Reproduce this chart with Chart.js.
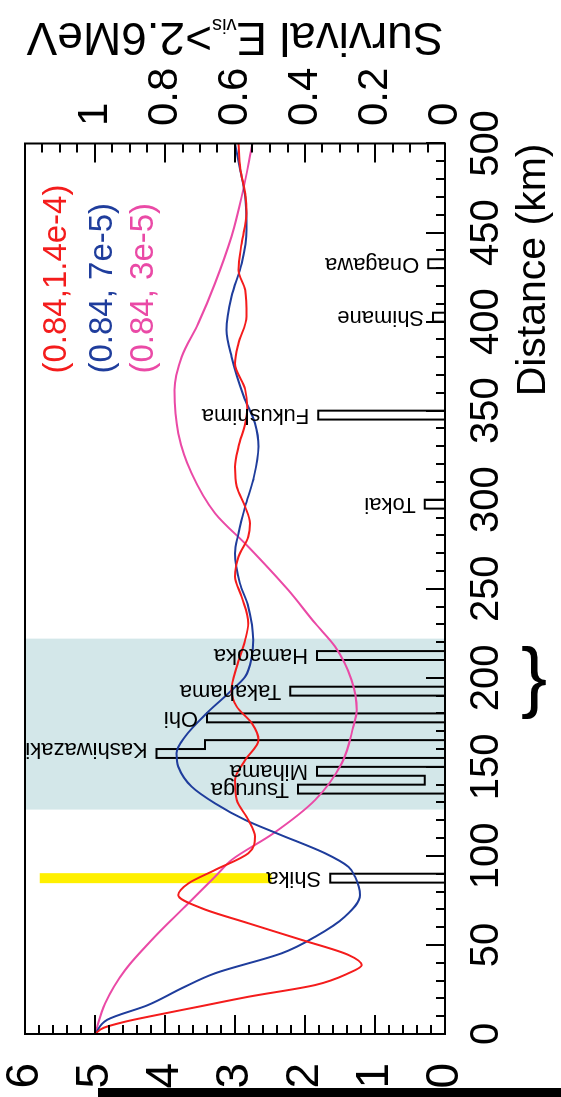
<!DOCTYPE html>
<html>
<head>
<meta charset="utf-8">
<script src="https://cdn.jsdelivr.net/npm/chart.js@4/dist/chart.umd.min.js"></script>
<style>
  html, body { margin: 0; padding: 0; background: #fff; overflow: hidden; }
  #page { position: relative; width: 561px; height: 1097px; overflow: hidden; background: #fff; }
  /* the plot is laid out in landscape and turned a quarter turn counter-clockwise */
  #wrap { position: absolute; left: 0; top: 0; width: 1097px; height: 561px;
          transform-origin: 0 0; transform: translate(0px, 1097px) rotate(-90deg); }
  #rule { position: absolute; left: 98px; top: 1088px; width: 463px; height: 9px; background: #000; }
</style>
</head>
<body>
<div id="page">
  <div id="wrap"><canvas id="c" width="1097" height="561"></canvas></div>
  <div id="rule"></div>
</div>
<script>
const FONT = "'Liberation Sans', Arial, Helvetica, sans-serif";

// Survival probability (E_vis > 2.6 MeV) vs baseline, for three (sin^2 2θ, Δm^2) sets
const redLabel = '(0.84,1.4e-4)';
const redKm  = [0, 3.5, 6.9, 9.7, 15.3, 20.9, 27.5, 34.1, 38.7, 44.4, 52.8, 62.2, 70.6, 78.0, 84.6, 92.1, 101.5, 110.8, 120.2, 131.4, 142.6, 153.8, 165.1, 174.5, 183.8, 193.2, 206.2, 221.2, 230.6, 245.5, 256.8, 268.0, 279.2, 286.7, 296.1, 307.3, 318.5, 329.8, 342.9, 352.0, 362.0, 376.6, 387.8, 402.8, 417.7, 429.0, 444.0, 460.8, 472.0, 486.0, 500];
const redSurv = [1, 0.975, 0.914, 0.848, 0.705, 0.562, 0.371, 0.276, 0.238, 0.276, 0.409, 0.562, 0.695, 0.762, 0.733, 0.657, 0.562, 0.543, 0.562, 0.595, 0.600, 0.571, 0.533, 0.552, 0.595, 0.610, 0.595, 0.571, 0.562, 0.581, 0.600, 0.590, 0.562, 0.557, 0.571, 0.595, 0.600, 0.590, 0.571, 0.565, 0.571, 0.600, 0.590, 0.567, 0.571, 0.590, 0.581, 0.567, 0.571, 0.585, 0.590];

const blueLabel = '(0.84, 7e-5)';
const blueKm  = [0, 8.0, 16.3, 25.7, 34.1, 45.3, 54.6, 65.9, 78.0, 88.3, 93.9, 101.5, 112.3, 120.2, 129.5, 138.9, 150.1, 157.6, 166.9, 180.1, 191.3, 200.6, 211.8, 221.2, 239.9, 253.1, 269.9, 281.1, 296.1, 311.1, 329.8, 342.9, 358.0, 380.3, 395.3, 414.0, 432.7, 451.4, 470.1, 485.0, 500];
const blueSurv = [1, 0.965, 0.848, 0.752, 0.657, 0.467, 0.371, 0.286, 0.243, 0.257, 0.276, 0.343, 0.476, 0.571, 0.657, 0.724, 0.762, 0.767, 0.743, 0.681, 0.619, 0.571, 0.552, 0.548, 0.562, 0.586, 0.600, 0.590, 0.571, 0.548, 0.533, 0.543, 0.575, 0.610, 0.624, 0.610, 0.581, 0.567, 0.571, 0.585, 0.600];

const pinkLabel = '(0.84, 3e-5)';
const pinkKm  = [0, 17.2, 35.9, 54.6, 71.5, 88.3, 97.7, 112.7, 131.4, 152.0, 172.5, 181.9, 198.8, 217.5, 230.6, 249.3, 273.6, 292.4, 314.8, 337.3, 361.6, 380.3, 399.0, 421.5, 447.7, 470.1, 500];
const pinkSurv = [1, 0.971, 0.914, 0.829, 0.743, 0.657, 0.610, 0.490, 0.371, 0.295, 0.262, 0.252, 0.267, 0.314, 0.371, 0.448, 0.562, 0.657, 0.724, 0.762, 0.773, 0.752, 0.705, 0.657, 0.610, 0.581, 0.550];

// Reactor power histogram, 5 km bins (left axis)
const binWidthKm = 5;
const binStartKm = [85, 135, 140, 145, 155, 160, 175, 190, 210, 295, 345, 400, 430];
const binPower   = [1.64, 2.10, 0.29, 1.83, 4.12, 3.43, 3.40, 2.21, 1.83, 0.29, 1.81, 0.17, 0.24];

// Reactor site names and where their labels sit
const reactorNames = ['Shika', 'Tsuruga', 'Mihama', 'Kashiwazaki', 'Ohi', 'Takahama', 'Hamaoka', 'Tokai', 'Fukushima', 'Shimane', 'Onagawa'];
const reactorKm    = [87.5, 137.5, 147.5, 160, 177.5, 192.5, 212.5, 297.5, 347.5, 402.5, 432.5];

// Highlighted distance band, yellow marker at Shika, brace under the band
const shadedKm = [126, 222];
const markerKm = 87.5;
const markerPower = [2.48, 5.79];
const braceKm = 197;

// Axis tick labels
const distanceTicks = [0, 50, 100, 150, 200, 250, 300, 350, 400, 450, 500];
const powerTicks = [0, 1, 2, 3, 4, 5, 6];
const survivalTicks = [0, 0.2, 0.4, 0.6, 0.8, 1];

const RED = '#f41c1c', BLUE = '#1f3d9c', PINK = '#ea4aa6';

function histogramOutline() {
  const pts = [{ x: 0, y: 0 }];
  binStartKm.forEach((lo, i) => {
    const hi = lo + binWidthKm, v = binPower[i];
    const prevAdj = i > 0 && binStartKm[i - 1] + binWidthKm === lo;
    const nextAdj = i < binStartKm.length - 1 && binStartKm[i + 1] === hi;
    if (!prevAdj) pts.push({ x: lo, y: 0 });
    pts.push({ x: lo, y: v }, { x: hi, y: v });
    if (!nextAdj) pts.push({ x: hi, y: 0 });
  });
  pts.push({ x: 500, y: 0 });
  return pts;
}

function labelBase(km) {
  let top = 0;
  binStartKm.forEach((lo, i) => {
    if (lo < km + binWidthKm / 2 && lo + binWidthKm > km - binWidthKm / 2) top = Math.max(top, binPower[i]);
  });
  return top;
}

const curve = (km, surv, color, label) => ({
  type: 'line', label, yAxisID: 'yS', order: 1,
  data: km.map((d, i) => ({ x: d, y: surv[i] })),
  borderColor: color, borderWidth: 2, pointRadius: 0, fill: false,
  cubicInterpolationMode: 'monotone'
});

// keep the vertical axes from pushing the plot area inward
const fitVertical = width => s => { s.width = width; s.paddingTop = 0; s.paddingBottom = 0; };

const decor = {
  id: 'decor',
  beforeDatasetsDraw(chart) {
    const { ctx, chartArea: a, scales: { x } } = chart;
    ctx.save();
    ctx.fillStyle = '#d3e7e9';
    const x0 = x.getPixelForValue(shadedKm[0]), x1 = x.getPixelForValue(shadedKm[1]);
    ctx.fillRect(x0, a.top, x1 - x0, a.bottom - a.top);
    ctx.restore();
  },
  afterDatasetsDraw(chart) {
    const { ctx, chartArea: a, scales: { x, y, yS } } = chart;
    ctx.save();
    ctx.fillStyle = '#000';

    // site names above their bars
    ctx.font = `22px ${FONT}`;
    ctx.textAlign = 'left';
    ctx.textBaseline = 'middle';
    reactorNames.forEach((name, i) => {
      ctx.save();
      ctx.translate(x.getPixelForValue(reactorKm[i]), y.getPixelForValue(labelBase(reactorKm[i])) - 9);
      ctx.rotate(-Math.PI / 2);
      ctx.fillText(name, 0, 0);
      ctx.restore();
    });

    // frame and inward ticks
    ctx.strokeStyle = '#000';
    ctx.lineWidth = 2;
    ctx.strokeRect(a.left, a.top, a.right - a.left, a.bottom - a.top);
    ctx.beginPath();
    for (let d = 0; d <= 500; d += 10) {
      const px = Math.round(x.getPixelForValue(d));
      const len = d % 50 === 0 ? 19 : 9;
      ctx.moveTo(px, a.bottom); ctx.lineTo(px, a.bottom - len);
    }
    for (let k = 0; k <= 30; k++) {
      const py = Math.round(y.getPixelForValue(k * 0.2));
      const len = k % 5 === 0 ? 19 : 9;
      ctx.moveTo(a.left, py); ctx.lineTo(a.left + len, py);
    }
    for (let k = 0; k <= 24; k++) {
      const py = Math.round(yS.getPixelForValue(k * 0.05));
      const len = k % 4 === 0 ? 19 : 9;
      ctx.moveTo(a.right, py); ctx.lineTo(a.right - len, py);
    }
    ctx.stroke();

    // parameter legend
    ctx.font = `33px ${FONT}`;
    ctx.textAlign = 'left';
    ctx.textBaseline = 'middle';
    const legendY = [32, 78, 118.5];
    chart.data.datasets.filter(ds => ds.yAxisID === 'yS').forEach((ds, i) => {
      ctx.fillStyle = ds.borderColor;
      ctx.fillText(ds.label, a.right - 230, a.top + legendY[i]);
    });

    // survival axis title, reading upward, with subscript
    const parts = [['Survival E', 46, 0], ['vis', 20, 4], ['>2.6MeV', 46, 0]];
    let total = 0;
    parts.forEach(p => { ctx.font = `${p[1]}px ${FONT}`; p.w = ctx.measureText(p[0]).width; total += p.w; });
    ctx.save();
    ctx.fillStyle = '#000';
    ctx.translate(chart.width - 23, (a.top + a.bottom) / 2);
    ctx.rotate(-Math.PI / 2);
    ctx.textBaseline = 'alphabetic';
    let pos = -total / 2;
    parts.forEach(p => { ctx.font = `${p[1]}px ${FONT}`; ctx.fillText(p[0], pos, p[2]); pos += p.w; });
    ctx.restore();

    // brace under the highlighted band
    ctx.save();
    ctx.fillStyle = '#000';
    ctx.font = `78px ${FONT}`;
    ctx.translate(x.getPixelForValue(braceKm), a.bottom + 89);
    ctx.rotate(Math.PI / 2);
    ctx.textAlign = 'center';
    ctx.textBaseline = 'alphabetic';
    ctx.fillText('}', 0, 0.26 * 78);
    ctx.restore();

    ctx.restore();
  }
};

new Chart(document.getElementById('c'), {
  type: 'line',
  data: {
    datasets: [
      curve(redKm, redSurv, RED, redLabel),
      curve(blueKm, blueSurv, BLUE, blueLabel),
      curve(pinkKm, pinkSurv, PINK, pinkLabel),
      {
        type: 'line', label: 'reactor power', yAxisID: 'y', order: 5,
        data: histogramOutline(),
        borderColor: '#000', borderWidth: 2, pointRadius: 0, fill: false, tension: 0
      },
      {
        type: 'line', label: 'marker', yAxisID: 'y', order: 6,
        data: markerPower.map(v => ({ x: markerKm, y: v })),
        borderColor: '#fff000', borderWidth: 10, borderCapStyle: 'butt', pointRadius: 0, fill: false
      }
    ]
  },
  options: {
    responsive: false,
    animation: false,
    devicePixelRatio: 1,
    layout: { padding: { top: 25, left: 0, right: 0, bottom: 0 } },
    plugins: { legend: { display: false }, tooltip: { enabled: false } },
    scales: {
      x: {
        type: 'linear', position: 'bottom', min: 0, max: 500,
        grid: { display: false, drawTicks: false }, border: { display: false },
        afterBuildTicks: s => { s.ticks = distanceTicks.map(v => ({ value: v })); },
        afterFit: s => { s.height = 116; s.paddingLeft = 0; s.paddingRight = 0; },
        ticks: { font: { family: FONT, size: 40, lineHeight: 1.2 }, color: '#000', padding: 18,
                 maxRotation: 0, minRotation: 0, autoSkip: false, callback: v => String(v) },
        title: { display: true, text: 'Distance (km)', align: 'end', color: '#000',
                 font: { family: FONT, size: 41, lineHeight: 1.2 }, padding: { top: 0, bottom: 3 } }
      },
      y: {
        type: 'linear', position: 'left', min: 0, max: 6,
        grid: { display: false, drawTicks: false }, border: { display: false },
        afterBuildTicks: s => { s.ticks = powerTicks.map(v => ({ value: v })); },
        afterFit: fitVertical(63),
        ticks: { font: { family: FONT, size: 46, lineHeight: 1 }, color: '#000', padding: 29,
                 autoSkip: false, callback: v => String(v) }
      },
      yS: {
        type: 'linear', position: 'right', min: 0, max: 1.2,
        grid: { display: false, drawTicks: false }, border: { display: false },
        afterBuildTicks: s => { s.ticks = survivalTicks.map(v => ({ value: v })); },
        afterFit: fitVertical(143.5),
        ticks: { font: { family: FONT, size: 42, lineHeight: 1 }, color: '#000', padding: 17.5,
                 autoSkip: false, callback: v => String(v) }
      }
    }
  },
  plugins: [decor]
});
</script>
</body>
</html>
